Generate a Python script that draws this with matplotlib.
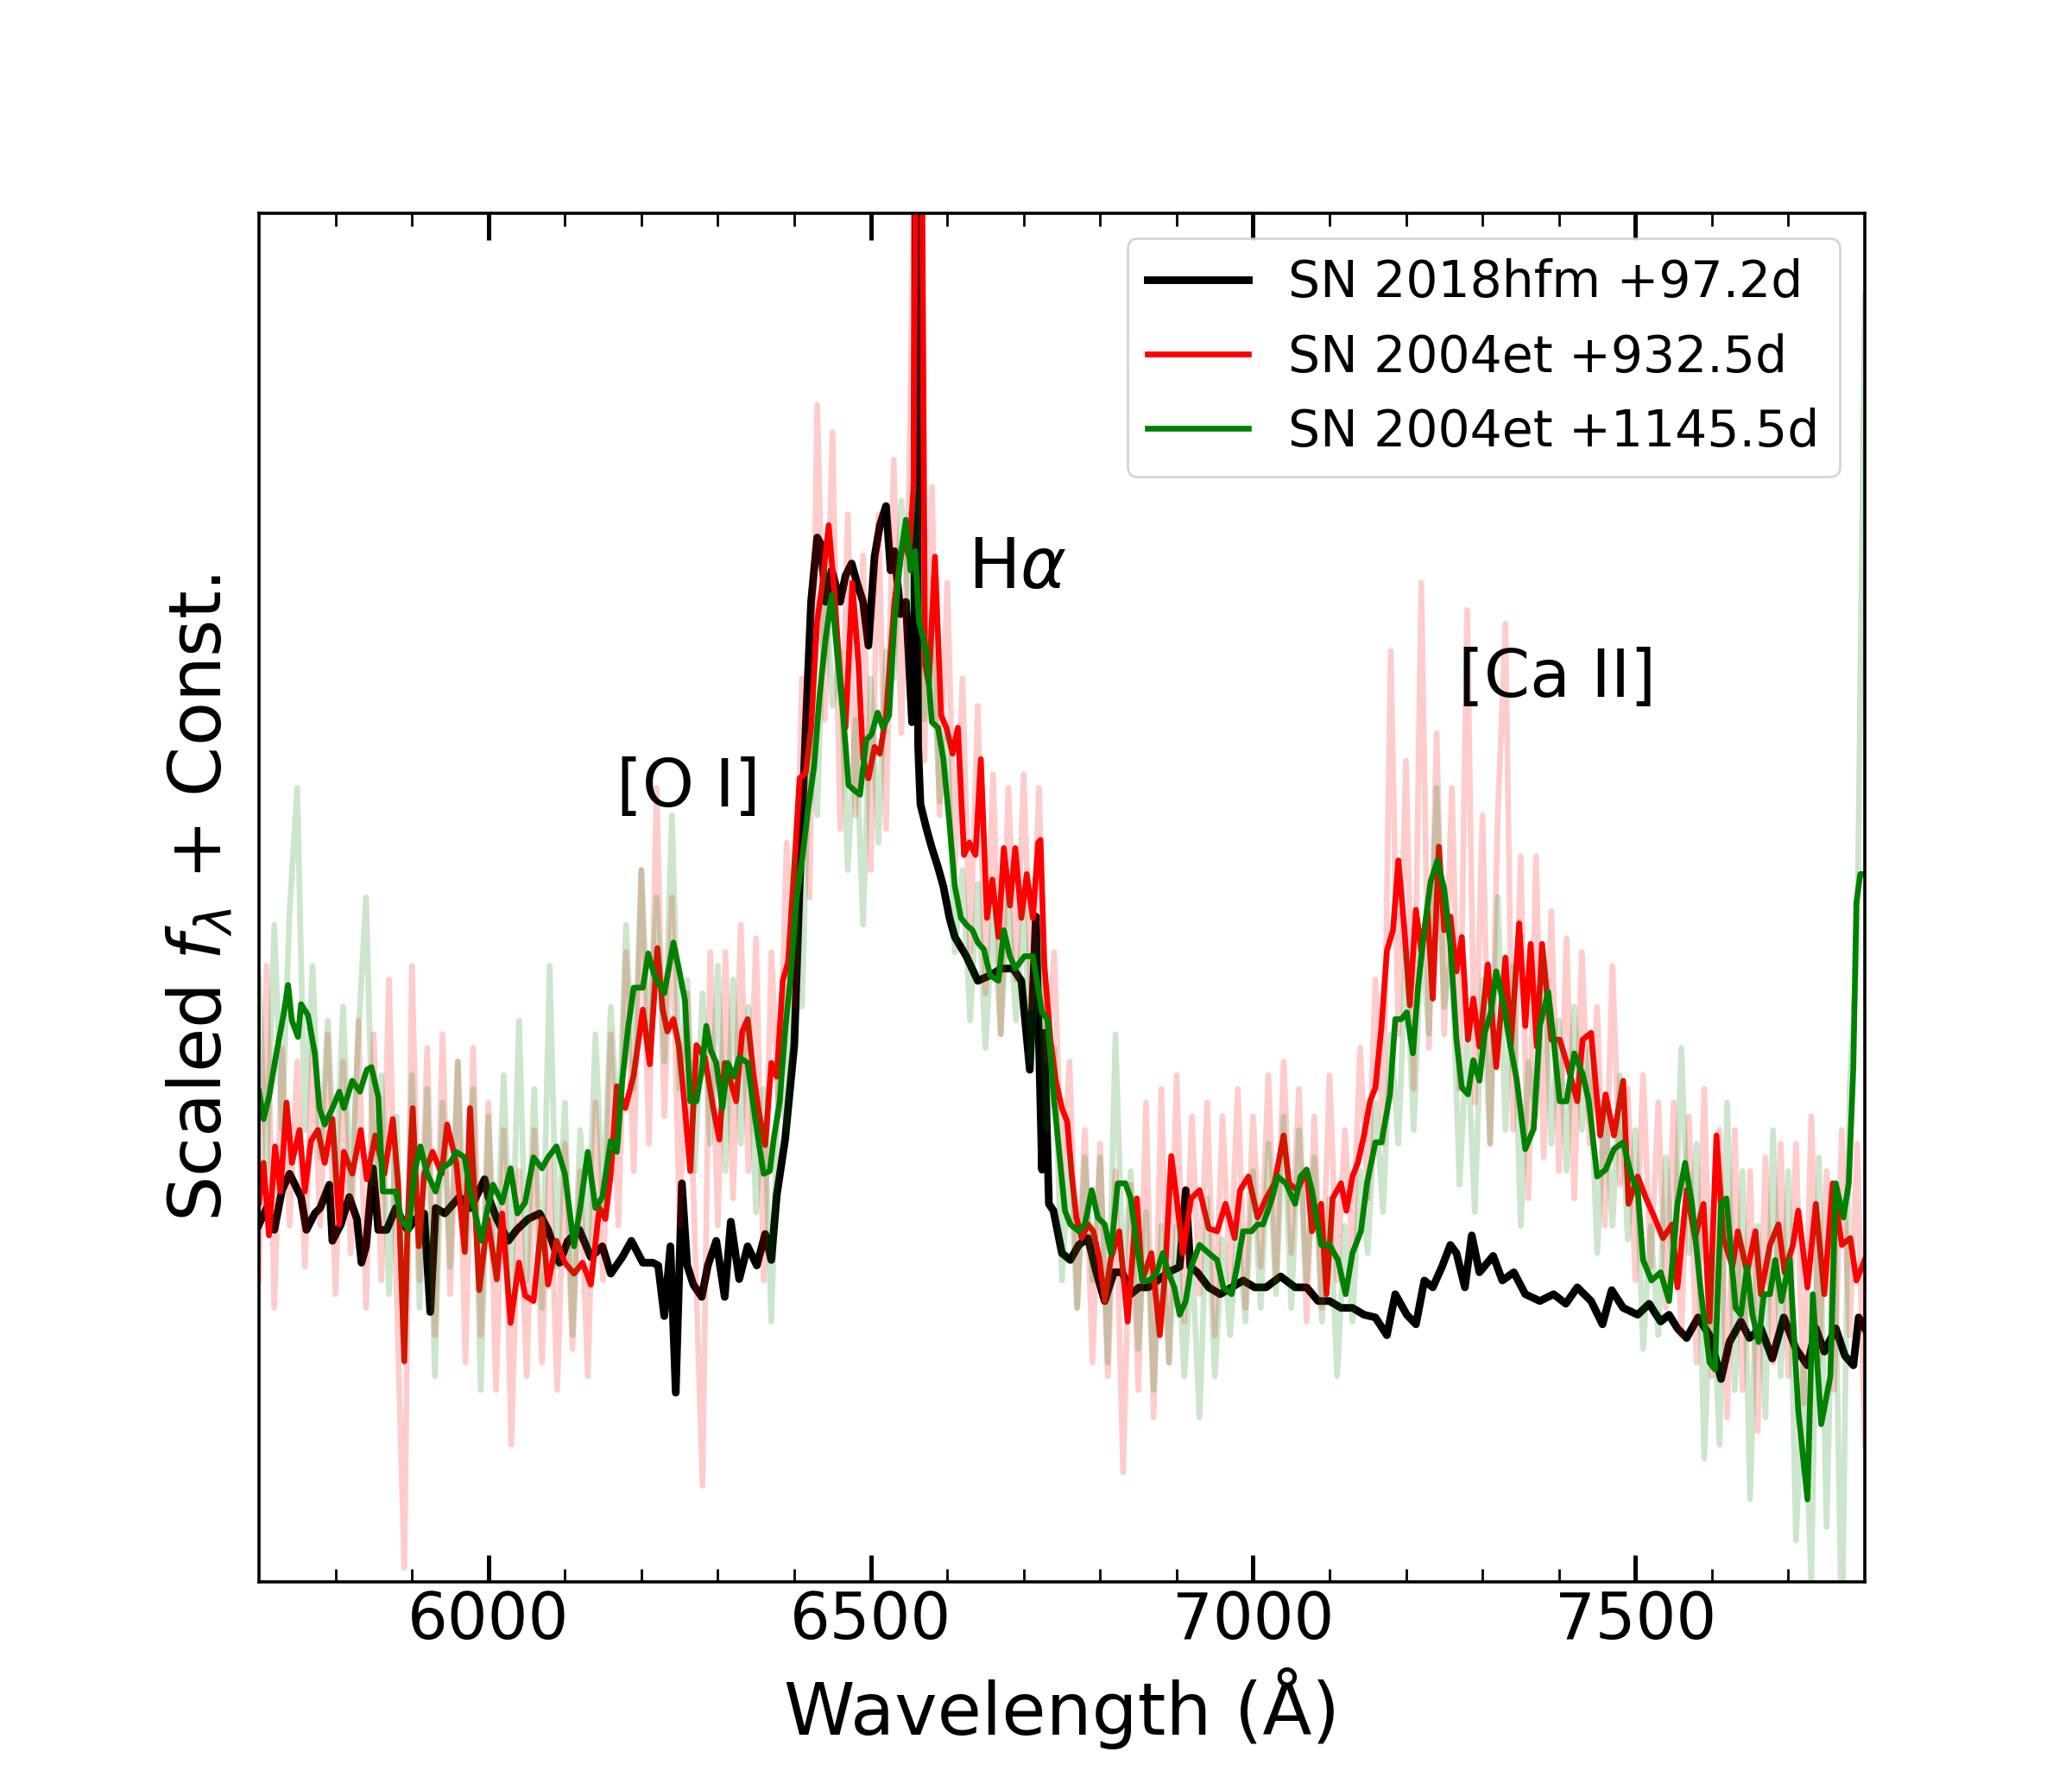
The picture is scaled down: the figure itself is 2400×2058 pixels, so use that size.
import numpy as np
import matplotlib.pyplot as plt

# SN 2018hfm (+97.2d), smoothed
wave_18hfm = [5700, 5710, 5720, 5730, 5740, 5747, 5755, 5762, 5773, 5780, 5792, 5796, 5807, 5818, 5828,
              5834, 5840, 5849, 5856, 5867, 5879, 5894, 5905, 5916, 5924, 5931, 5943, 5962, 5977, 5995,
              6000, 6011, 6026, 6037, 6052, 6067, 6078, 6093, 6104, 6119, 6134, 6149, 6160, 6175, 6187,
              6202, 6215, 6222, 6230, 6238, 6245, 6253, 6260, 6268, 6279, 6287, 6298, 6309, 6317, 6328,
              6339, 6351, 6362, 6370, 6377, 6388, 6400, 6407, 6415, 6422, 6430, 6435, 6441, 6449, 6460,
              6467, 6475, 6482, 6490, 6497, 6505, 6512, 6520, 6526, 6531, 6539, 6546, 6554, 6557, 6559,
              6562, 6565, 6573, 6580, 6588, 6595, 6603, 6610, 6625, 6640, 6656, 6671, 6686, 6697, 6708,
              6716, 6724, 6727, 6733, 6739, 6750, 6761, 6772, 6784, 6795, 6806, 6818, 6829, 6840, 6851,
              6863, 6875, 6889, 6904, 6912, 6918, 6927, 6942, 6957, 6972, 6987, 7002, 7017, 7036, 7055,
              7070, 7085, 7100, 7115, 7130, 7145, 7160, 7175, 7186, 7201, 7213, 7224, 7235, 7247, 7258,
              7266, 7277, 7286, 7296, 7314, 7326, 7341, 7356, 7375, 7393, 7409, 7424, 7442, 7457, 7469,
              7484, 7503, 7518, 7533, 7544, 7555, 7567, 7582, 7597, 7612, 7623, 7638, 7649, 7664, 7679,
              7694, 7710, 7725, 7736, 7747, 7762, 7774, 7785, 7792, 7800]
flux_18hfm = [2.61, 2.73, 2.57, 2.86, 2.98, 2.90, 2.81, 2.57, 2.69, 2.73, 2.90, 2.49, 2.61, 2.81, 2.65,
              2.33, 2.45, 3.02, 2.57, 2.57, 2.73, 2.57, 2.65, 2.69, 1.97, 2.73, 2.69, 2.81, 2.73, 2.94,
              2.81, 2.65, 2.49, 2.57, 2.65, 2.69, 2.57, 2.33, 2.49, 2.57, 2.37, 2.45, 2.25, 2.37, 2.49,
              2.33, 2.33, 2.31, 1.94, 2.45, 1.38, 2.91, 2.31, 2.17, 2.08, 2.31, 2.49, 2.08, 2.63, 2.21,
              2.45, 2.31, 2.54, 2.35, 2.82, 3.23, 3.92, 5.08, 6.24, 7.16, 7.63, 7.58, 7.16, 7.39, 7.16,
              7.35, 7.44, 7.30, 7.16, 6.84, 7.49, 7.72, 7.86, 7.39, 7.53, 7.07, 7.16, 6.28, 6.60, 11.5,
              6.10, 5.68, 5.50, 5.36, 5.22, 5.08, 4.85, 4.71, 4.57, 4.39, 4.43, 4.48, 4.48, 4.39, 3.74,
              4.86, 3.01, 4.01, 2.76, 2.71, 2.40, 2.35, 2.46, 2.51, 2.26, 2.05, 2.26, 2.26, 2.10, 2.15,
              2.15, 2.20, 2.26, 2.30, 2.86, 2.30, 2.26, 2.15, 2.10, 2.15, 2.20, 2.15, 2.15, 2.23, 2.15,
              2.15, 2.05, 2.05, 2.00, 2.00, 1.95, 1.93, 1.80, 2.10, 1.95, 1.88, 2.20, 2.15, 2.30, 2.46,
              2.40, 2.15, 2.53, 2.26, 2.38, 2.20, 2.26, 2.10, 2.05, 2.10, 2.03, 2.15, 2.05, 1.88, 2.13,
              2.00, 1.95, 2.03, 1.90, 1.95, 1.85, 1.78, 1.93, 1.80, 1.48, 1.75, 1.90, 1.78, 1.85, 1.63,
              1.93, 1.70, 1.58, 1.85, 1.68, 1.85, 1.65, 1.58, 1.93, 1.85]

# SN 2004et (+932.5d), smoothed
wave_932 = [5700, 5706, 5713, 5721, 5728, 5736, 5743, 5753, 5760, 5768, 5777, 5786, 5796, 5805, 5811,
            5822, 5833, 5841, 5852, 5864, 5875, 5882, 5890, 5894, 5901, 5909, 5916, 5927, 5939, 5946,
            5958, 5969, 5976, 5988, 5999, 6011, 6018, 6029, 6040, 6048, 6059, 6070, 6078, 6089, 6100,
            6112, 6123, 6134, 6145, 6153, 6160, 6168, 6179, 6190, 6202, 6211, 6221, 6228, 6234, 6242,
            6249, 6257, 6264, 6272, 6283, 6294, 6302, 6309, 6317, 6324, 6332, 6339, 6347, 6354, 6362,
            6370, 6377, 6385, 6392, 6400, 6407, 6415, 6422, 6430, 6437, 6445, 6452, 6460, 6467, 6476,
            6484, 6490, 6497, 6505, 6512, 6520, 6531, 6543, 6550, 6556, 6560, 6566, 6571, 6576, 6584,
            6592, 6599, 6607, 6614, 6622, 6629, 6637, 6644, 6652, 6659, 6667, 6674, 6682, 6689, 6697,
            6704, 6712, 6719, 6722, 6727, 6735, 6742, 6750, 6757, 6763, 6769, 6776, 6784, 6791, 6799,
            6806, 6814, 6825, 6836, 6848, 6855, 6867, 6878, 6885, 6893, 6900, 6908, 6919, 6930, 6942,
            6953, 6964, 6976, 6983, 6994, 7006, 7017, 7028, 7040, 7047, 7058, 7070, 7077, 7089, 7096,
            7104, 7115, 7122, 7130, 7137, 7145, 7153, 7160, 7168, 7175, 7183, 7190, 7198, 7205, 7213,
            7220, 7228, 7235, 7243, 7250, 7258, 7266, 7273, 7281, 7288, 7296, 7307, 7318, 7330, 7337,
            7348, 7356, 7363, 7371, 7378, 7390, 7401, 7412, 7424, 7431, 7442, 7454, 7461, 7472, 7484,
            7491, 7503, 7514, 7525, 7536, 7548, 7555, 7567, 7578, 7589, 7597, 7606, 7615, 7627, 7634,
            7646, 7657, 7664, 7676, 7687, 7695, 7706, 7713, 7725, 7736, 7747, 7758, 7770, 7781, 7789,
            7800]
flux_932 = [2.77, 3.06, 2.53, 3.18, 2.85, 3.50, 3.06, 3.30, 2.85, 3.22, 3.30, 3.06, 3.38, 2.61, 3.14,
            2.98, 3.30, 2.94, 3.26, 2.98, 3.38, 2.90, 1.61, 2.57, 3.46, 2.45, 2.98, 3.14, 2.98, 3.34,
            3.06, 2.41, 3.46, 2.13, 2.65, 2.21, 2.69, 1.89, 2.33, 2.09, 2.05, 2.65, 2.17, 2.49, 2.33,
            2.25, 2.33, 2.17, 2.73, 2.65, 2.98, 3.62, 3.46, 3.70, 4.18, 3.78, 4.63, 4.18, 4.02, 4.11,
            3.92, 3.46, 3.00, 3.92, 3.83, 3.46, 3.23, 3.79, 3.65, 3.51, 4.02, 4.11, 3.69, 3.42, 3.19,
            3.79, 3.69, 4.39, 4.53, 5.22, 5.87, 5.91, 6.24, 7.02, 7.30, 7.72, 7.26, 6.61, 6.24, 7.30,
            6.70, 6.01, 5.87, 6.10, 6.05, 6.33, 7.16, 7.63, 7.49, 8.00, 11.5, 11.5, 6.70, 6.56, 7.49,
            6.33, 6.24, 6.05, 6.24, 5.31, 5.40, 5.31, 6.01, 4.85, 5.13, 4.71, 5.36, 4.94, 5.36, 4.85,
            5.17, 4.85, 5.40, 5.42, 4.51, 3.96, 3.66, 3.46, 3.36, 2.96, 2.66, 2.51, 2.61, 2.56, 2.36,
            2.05, 2.36, 2.56, 1.90, 2.80, 2.20, 2.40, 1.80, 2.26, 3.11, 2.80, 2.40, 2.80, 2.86, 2.58,
            2.56, 2.76, 2.51, 2.86, 2.96, 2.66, 2.80, 2.91, 3.26, 2.91, 2.86, 3.01, 2.56, 2.76, 2.10,
            2.80, 2.91, 2.71, 2.96, 3.06, 3.26, 3.51, 3.61, 4.06, 4.61, 4.76, 5.27, 4.76, 4.21, 4.91,
            4.61, 4.91, 4.26, 5.37, 4.76, 4.86, 4.46, 4.71, 3.96, 4.26, 3.91, 4.51, 3.76, 4.56, 3.91,
            4.81, 4.06, 4.66, 3.91, 4.66, 3.96, 3.96, 3.76, 3.51, 3.96, 4.01, 3.26, 3.56, 3.26, 3.66,
            2.76, 2.96, 2.80, 2.66, 2.51, 2.61, 2.15, 2.86, 2.51, 2.76, 1.90, 3.26, 2.51, 2.30, 2.56,
            2.26, 2.56, 2.10, 2.46, 2.61, 2.26, 2.46, 2.71, 2.15, 2.76, 2.10, 2.91, 2.46, 2.51, 2.20,
            2.35]

# SN 2004et (+1145.5d), smoothed
wave_1145 = [5700, 5706, 5713, 5724, 5732, 5738, 5743, 5751, 5755, 5764, 5773, 5779, 5786, 5796, 5805,
             5811, 5822, 5832, 5841, 5847, 5856, 5862, 5871, 5879, 5886, 5896, 5903, 5911, 5920, 5931,
             5939, 5950, 5958, 5969, 5976, 5991, 5999, 6006, 6018, 6029, 6038, 6048, 6059, 6070, 6078,
             6089, 6100, 6112, 6121, 6130, 6140, 6149, 6160, 6168, 6175, 6183, 6190, 6202, 6209, 6217,
             6230, 6242, 6249, 6257, 6264, 6272, 6279, 6285, 6291, 6298, 6306, 6313, 6321, 6328, 6339,
             6347, 6354, 6360, 6368, 6373, 6381, 6388, 6396, 6403, 6411, 6418, 6426, 6433, 6441, 6449,
             6456, 6464, 6471, 6479, 6486, 6494, 6501, 6509, 6516, 6524, 6531, 6539, 6546, 6552, 6558,
             6563, 6573, 6580, 6588, 6595, 6603, 6610, 6618, 6625, 6633, 6640, 6648, 6656, 6667, 6674,
             6682, 6689, 6701, 6712, 6724, 6731, 6739, 6746, 6754, 6761, 6772, 6780, 6789, 6797, 6806,
             6814, 6823, 6833, 6840, 6848, 6855, 6865, 6874, 6882, 6889, 6897, 6904, 6912, 6919, 6930,
             6942, 6953, 6961, 6972, 6979, 6987, 6998, 7006, 7013, 7025, 7032, 7043, 7055, 7062, 7070,
             7077, 7089, 7100, 7111, 7121, 7130, 7141, 7149, 7160, 7168, 7179, 7186, 7194, 7201, 7209,
             7216, 7224, 7232, 7241, 7250, 7258, 7266, 7273, 7281, 7288, 7296, 7303, 7311, 7318, 7328,
             7335, 7345, 7356, 7367, 7375, 7386, 7393, 7401, 7410, 7420, 7431, 7439, 7450, 7461, 7472,
             7484, 7495, 7503, 7510, 7521, 7533, 7544, 7555, 7565, 7574, 7585, 7597, 7604, 7612, 7619,
             7631, 7638, 7646, 7653, 7661, 7668, 7676, 7683, 7691, 7702, 7713, 7725, 7732, 7743, 7755,
             7762, 7772, 7779, 7785, 7789, 7794, 7800]
flux_1145 = [3.58, 3.38, 3.54, 3.90, 4.14, 4.36, 4.10, 3.98, 4.22, 4.14, 3.86, 3.46, 3.34, 3.46, 3.58,
             3.46, 3.66, 3.58, 3.74, 3.76, 3.54, 2.85, 2.85, 2.85, 2.65, 2.57, 2.98, 3.18, 2.98, 2.85,
             3.02, 3.06, 3.14, 3.10, 2.85, 2.49, 2.73, 2.90, 2.77, 3.02, 2.69, 2.77, 3.10, 3.02, 3.10,
             3.18, 2.98, 2.45, 2.77, 3.14, 2.73, 2.81, 3.22, 3.14, 3.66, 4.06, 4.34, 4.34, 4.59, 4.43,
             4.30, 4.67, 4.48, 4.25, 3.51, 3.51, 3.74, 4.06, 3.88, 3.79, 3.46, 3.79, 3.69, 3.83, 3.79,
             3.46, 3.19, 2.98, 3.00, 3.23, 3.51, 4.02, 4.48, 4.99, 5.31, 5.64, 5.96, 6.47, 6.89, 7.21,
             6.79, 6.33, 5.82, 5.78, 5.75, 6.15, 6.19, 6.35, 6.24, 6.33, 7.02, 7.49, 7.76, 7.39, 7.53,
             7.02, 6.79, 6.28, 6.24, 6.01, 5.54, 5.08, 4.85, 4.80, 4.76, 4.67, 4.62, 4.43, 4.39, 4.76,
             4.57, 4.48, 4.57, 4.57, 4.16, 4.11, 3.56, 3.16, 2.71, 2.61, 2.56, 2.61, 2.86, 2.66, 2.61,
             2.40, 2.91, 2.91, 2.80, 2.46, 2.20, 2.20, 2.26, 2.40, 2.26, 2.15, 1.95, 2.05, 2.30, 2.46,
             2.40, 2.35, 2.15, 2.10, 2.30, 2.56, 2.56, 2.61, 2.61, 2.80, 2.96, 2.91, 2.76, 2.96, 3.01,
             2.86, 2.46, 2.46, 2.35, 2.10, 2.40, 2.56, 2.91, 3.21, 3.21, 3.56, 4.11, 4.11, 4.16, 3.86,
             4.36, 4.76, 5.11, 5.27, 5.06, 4.66, 3.96, 3.61, 3.56, 3.81, 3.66, 4.01, 4.16, 4.46, 4.21,
             3.96, 3.66, 3.16, 3.31, 4.06, 4.31, 3.96, 3.51, 3.51, 3.86, 3.71, 3.51, 2.96, 3.01, 3.16,
             3.21, 2.96, 2.86, 2.35, 2.20, 2.26, 2.05, 2.76, 3.06, 2.76, 2.15, 1.60, 1.55, 2.76, 2.80,
             2.00, 1.95, 2.30, 1.95, 1.75, 2.10, 2.10, 2.35, 2.05, 2.35, 1.25, 0.60, 2.10, 1.15, 1.50,
             2.91, 2.66, 2.91, 3.76, 4.96, 5.17, 5.17]

# unbinned SN 2004et spectra, 10 A steps
wave_raw = np.arange(5700, 7801, 10)
raw_932 = [2.2, 4.5, 2.0, 3.9, 2.6, 3.8, 2.3, 3.9, 2.6, 4.0,
           2.1, 3.8, 2.4, 4.1, 2.0, 4.0, 2.2, 4.4, 2.1, 0.1,
           4.5, 2.2, 3.9, 1.8, 4.0, 2.1, 3.8, 1.6, 3.9, 1.8,
           3.5, 1.4, 3.3, 1.0, 3.0, 1.5, 3.3, 1.6, 3.1, 1.4,
           3.2, 1.7, 3.0, 1.5, 3.5, 2.2, 4.0, 2.6, 4.6, 3.0,
           5.2, 3.2, 5.8, 3.4, 5.0, 2.6, 4.3, 2.5, 0.7, 4.6,
           2.6, 4.6, 2.8, 4.8, 3.0, 4.7, 2.2, 4.6, 3.4, 5.4,
           4.2, 6.6, 5.0, 8.6, 6.3, 8.4, 5.5, 7.8, 5.6, 7.5,
           5.2, 7.8, 5.5, 8.2, 6.2, 8.0, 11.5, 6.0, 8.0, 5.6,
           7.3, 5.2, 6.6, 4.6, 6.4, 4.3, 5.9, 4.0, 5.8, 4.4,
           5.9, 4.2, 5.8, 3.8, 4.6, 2.9, 3.8, 2.0, 3.3, 1.6,
           3.2, 1.5, 3.0, 0.8, 2.9, 1.4, 3.5, 1.2, 3.6, 1.6,
           3.7, 1.9, 3.4, 2.1, 3.5, 1.8, 3.4, 2.2, 3.6, 2.0,
           3.4, 2.3, 3.7, 2.2, 3.8, 2.4, 3.6, 1.9, 3.4, 2.0,
           3.7, 2.2, 3.3, 2.4, 3.9, 2.8, 4.4, 3.2, 6.8, 4.0,
           6.0, 3.6, 7.3, 3.9, 6.2, 4.0, 5.8, 3.6, 7.1, 3.5,
           5.6, 3.2, 5.6, 7.0, 3.3, 5.3, 2.8, 5.3, 3.1, 4.9,
           3.0, 4.7, 2.8, 4.6, 3.2, 4.2, 2.6, 4.5, 2.9, 3.6,
           2.2, 3.7, 2.3, 3.5, 2.0, 3.5, 1.8, 3.4, 1.6, 3.6,
           1.5, 3.3, 1.2, 3.3, 1.4, 3.0, 1.1, 3.1, 1.6, 3.2,
           1.5, 3.2, 1.3, 3.4, 1.6, 3.0, 1.4, 3.3, 1.8, 3.2,
           1.0]
raw_1145 = [4.4, 3.0, 4.8, 3.3, 4.9, 5.8, 3.3, 4.5, 3.1, 4.1,
            2.9, 4.2, 2.8, 4.0, 5.0, 2.9, 3.7, 2.1, 3.4, 1.6,
            3.7, 2.0, 3.6, 1.5, 3.5, 2.3, 3.8, 2.4, 3.6, 1.4,
            3.4, 2.2, 3.7, 2.1, 4.1, 2.2, 3.6, 2.0, 4.5, 2.3,
            3.5, 1.8, 3.3, 2.4, 4.0, 2.7, 4.2, 3.2, 4.8, 3.6,
            5.2, 3.9, 5.0, 3.8, 5.6, 3.6, 4.4, 3.0, 4.3, 3.2,
            4.5, 3.0, 4.4, 3.2, 4.2, 2.7, 3.6, 1.9, 3.8, 3.3,
            5.3, 4.2, 6.2, 5.6, 7.4, 6.4, 6.8, 5.2, 6.3, 4.8,
            6.6, 5.4, 6.8, 6.6, 7.9, 7.1, 8.0, 6.3, 6.9, 5.7,
            6.2, 4.6, 5.2, 4.1, 5.1, 3.9, 4.9, 4.0, 5.0, 4.1,
            4.9, 3.8, 4.7, 3.3, 3.9, 2.2, 3.1, 2.0, 3.1, 2.2,
            3.1, 1.6, 4.0, 2.2, 3.0, 1.7, 2.7, 1.4, 2.6, 1.6,
            2.6, 1.5, 2.4, 1.2, 2.8, 1.5, 2.5, 1.8, 2.6, 1.9,
            3.0, 2.0, 3.2, 2.1, 3.4, 2.0, 3.3, 2.2, 3.1, 1.9,
            2.8, 1.5, 2.6, 1.9, 3.0, 2.4, 3.5, 2.7, 4.0, 3.2,
            4.6, 3.3, 4.7, 4.0, 5.8, 4.2, 4.6, 2.9, 4.0, 2.7,
            4.4, 3.2, 5.0, 3.3, 4.5, 2.6, 3.8, 3.4, 4.6, 3.2,
            4.1, 3.0, 4.2, 3.3, 3.9, 2.4, 3.5, 2.6, 3.7, 2.5,
            3.3, 1.7, 2.6, 1.8, 3.1, 2.2, 3.9, 2.4, 3.2, 0.9,
            2.4, 1.0, 3.5, 1.4, 3.0, 0.6, 2.6, 1.2, 3.3, 1.5,
            3.0, 0.3, 1.6, 0.0, 3.1, 0.4, 2.8, -0.5, 3.6, 4.6,
            9.4]

labels = ["SN 2018hfm +97.2d", "SN 2004et +932.5d", "SN 2004et +1145.5d"]

fig = plt.figure(figsize=(12, 10.29), dpi=200)
ax = fig.add_subplot(111)

ax.plot(wave_18hfm, flux_18hfm, color='k', lw=3.2, label=labels[0])
ax.plot(wave_raw, raw_932, color='r', lw=2.4, alpha=0.2)
ax.plot(wave_932, flux_932, color='r', lw=2.4, label=labels[1])
ax.plot(wave_raw, raw_1145, color='g', lw=2.4, alpha=0.2)
ax.plot(wave_1145, flux_1145, color='g', lw=2.4, label=labels[2])

ax.text(6692, 7.4, r'H$\alpha$', fontsize=29, ha='center', va='center')
ax.text(6261, 5.8, '[O I]', fontsize=27.5, ha='center', va='center')
ax.text(7398, 6.6, '[Ca II]', fontsize=27.5, ha='center', va='center')

ax.set_xlim(5700, 7800)
ax.set_ylim(0, 10)
ax.set_yticks([])
ax.set_xticks([6000, 6500, 7000, 7500])
ax.set_xticks(np.arange(5800, 7800, 100), minor=True)
ax.tick_params(axis='x', which='both', direction='in', top=True, labelsize=26.5)
ax.tick_params(axis='x', which='major', length=11, width=1.8)
ax.tick_params(axis='x', which='minor', length=5.5, width=1.0)
for s in ax.spines.values():
    s.set_linewidth(1.3)

ax.set_xlabel('Wavelength (Å)', fontsize=30, labelpad=6)
ax.set_ylabel(r'Scaled $f_\lambda$ + Const.', fontsize=30, labelpad=10)
ax.legend(loc='upper right', fontsize=21)

plt.savefig('out.png', dpi=200)
